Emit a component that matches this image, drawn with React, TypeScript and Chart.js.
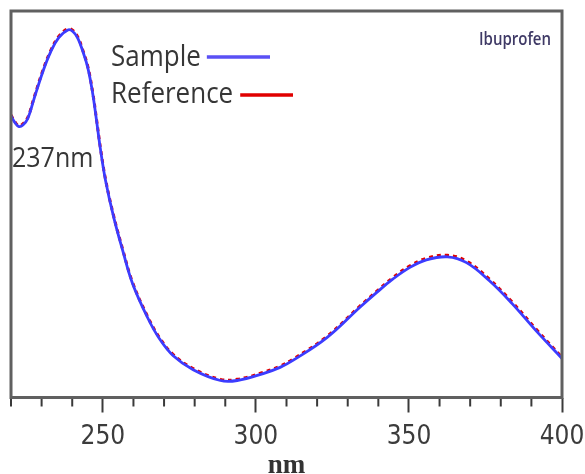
import React, { useEffect, useRef } from "react";
import { Chart, registerables } from "chart.js";

Chart.register(...registerables);

// Wavelength (nm) positions
const wavelengths = [
  220, 221.3, 222.6, 223.9, 225.5, 227.5, 230.4, 233.0, 235.6, 238.6, 240.2,
  241.8, 243.4, 245.1, 246.7, 248.0, 249.3, 250.9, 253.5, 256.5, 259.7, 264.6,
  268.5, 273.0, 279.5, 288.4, 293.9, 302.4, 307.9, 312.1, 323.2, 333.9, 339.5,
  344.7, 350.2, 355.7, 362.6, 368.8, 376.3, 383.7, 391.5, 400,
];
// Absorbance (relative units)
const sampleAbs = [
  0.729, 0.711, 0.701, 0.705, 0.722, 0.772, 0.843, 0.895, 0.931, 0.951, 0.947,
  0.93, 0.897, 0.853, 0.786, 0.713, 0.638, 0.561, 0.468, 0.38, 0.295, 0.207,
  0.152, 0.108, 0.072, 0.044, 0.044, 0.062, 0.078, 0.096, 0.155, 0.233, 0.272,
  0.306, 0.336, 0.356, 0.364, 0.349, 0.302, 0.243, 0.173, 0.101,
];
const referenceAbs = [
  0.731, 0.713, 0.703, 0.708, 0.725, 0.775, 0.846, 0.898, 0.934, 0.954, 0.95,
  0.933, 0.9, 0.856, 0.789, 0.716, 0.641, 0.564, 0.471, 0.383, 0.298, 0.21,
  0.155, 0.111, 0.075, 0.047, 0.047, 0.065, 0.081, 0.099, 0.158, 0.236, 0.275,
  0.31, 0.34, 0.36, 0.368, 0.353, 0.306, 0.247, 0.177, 0.104,
];
const xMin = 220;
const xMax = 400;
const xStep = 10;
const xMajorStep = 50;
const seriesNames = ["Sample", "Reference"];
const peakLabel = "237nm";
const compoundLabel = "Ibuprofen";
const xAxisTitle = "nm";

const BLUE = "#3c3cff";
const RED = "#e00000";
const FRAME = "#606060";
const TEXT = "#363636";

const overlayPlugin = {
  id: "overlay",
  afterDraw(chart: any) {
    const { ctx, chartArea } = chart;
    const xs = chart.scales.x;
    ctx.save();
    // minor ticks
    ctx.strokeStyle = "#3a3a3a";
    ctx.lineWidth = 2;
    xs.ticks.forEach((t: any) => {
      if (t.value % xMajorStep !== 0) {
        const px = xs.getPixelForValue(t.value);
        ctx.beginPath();
        ctx.moveTo(px, chartArea.bottom);
        ctx.lineTo(px, chartArea.bottom + 9);
        ctx.stroke();
      }
    });
    // frame
    ctx.strokeStyle = FRAME;
    ctx.lineWidth = 3;
    ctx.strokeRect(
      chartArea.left,
      chartArea.top,
      chartArea.right - chartArea.left,
      chartArea.bottom - chartArea.top
    );

    const stretchText = (
      text: string,
      x: number,
      y: number,
      font: string,
      color: string,
      sy: number,
      align: CanvasTextAlign
    ) => {
      ctx.save();
      ctx.translate(x, y);
      ctx.scale(1, sy);
      ctx.font = font;
      ctx.fillStyle = color;
      ctx.textAlign = align;
      ctx.textBaseline = "alphabetic";
      ctx.fillText(text, 0, 0);
      ctx.restore();
    };

    // legend
    const lf = "26px 'Open Sans'";
    stretchText(seriesNames[0], 111, 66, lf, TEXT, 1.12, "left");
    stretchText(seriesNames[1], 111, 103, lf, TEXT, 1.12, "left");
    ctx.font = lf;
    const w0 = ctx.measureText(seriesNames[0]).width;
    const w1 = ctx.measureText(seriesNames[1]).width;
    ctx.lineWidth = 3.5;
    ctx.strokeStyle = "#5a50f5";
    ctx.beginPath();
    ctx.moveTo(111 + w0 + 6, 57);
    ctx.lineTo(270, 57);
    ctx.stroke();
    ctx.strokeStyle = RED;
    ctx.beginPath();
    ctx.moveTo(111 + w1 + 7, 95);
    ctx.lineTo(293, 95);
    ctx.stroke();

    // annotations
    stretchText(peakLabel, 12, 167, "25px 'Open Sans'", TEXT, 1.1, "left");
    stretchText(compoundLabel, 551, 45, "600 15px 'Open Sans'", "#3f3a66", 1.25, "right");
    ctx.restore();
  },
};

export default function App() {
  const ref = useRef<HTMLCanvasElement | null>(null);
  useEffect(() => {
    if (!ref.current) return;
    const sample = wavelengths.map((x, i) => ({ x, y: sampleAbs[i] }));
    const reference = wavelengths.map((x, i) => ({ x, y: referenceAbs[i] }));
    const chart = new Chart(ref.current, {
      type: "line",
      data: {
        datasets: [
          {
            label: seriesNames[0],
            data: sample,
            borderColor: BLUE,
            borderWidth: 2.8,
            pointRadius: 0,
            tension: 0.4,
            fill: false,
          },
          {
            label: seriesNames[1],
            data: reference,
            borderColor: RED,
            borderWidth: 3,
            borderDash: [4, 4],
            pointRadius: 0,
            tension: 0.4,
            fill: false,
          },
        ],
      },
      options: {
        responsive: false,
        animation: false,
        layout: { padding: { left: 11, top: 11, right: 23, bottom: 0 } },
        plugins: {
          legend: { display: false },
          tooltip: { enabled: false },
          title: { display: false },
        },
        scales: {
          x: {
            type: "linear",
            min: xMin,
            max: xMax,
            afterFit: (s: any) => {
              s.height = 76.5;
              s.paddingLeft = 0;
              s.paddingRight = 0;
            },
            border: { display: false },
            grid: {
              drawOnChartArea: false,
              drawTicks: true,
              tickLength: 15,
              tickWidth: 2,
              tickColor: (c: any) =>
                c.tick && c.tick.value % xMajorStep === 0 ? "#3a3a3a" : "rgba(0,0,0,0)",
            },
            ticks: {
              stepSize: xStep,
              autoSkip: false,
              maxRotation: 0,
              padding: 9,
              color: "#3c3c3c",
              font: { family: "'DejaVu Sans Condensed', sans-serif", size: 26 },
              callback: (v: any) => (Number(v) % xMajorStep === 0 ? String(v) : ""),
            },
            title: {
              display: true,
              text: xAxisTitle,
              color: "#333",
              font: { family: "'Liberation Serif', serif", size: 27, weight: "bold", lineHeight: 0.6 },
              padding: { top: 0, bottom: 0 },
            },
          },
          y: {
            display: false,
            min: 0,
            max: 1,
          },
        },
      },
      plugins: [overlayPlugin],
    });
    return () => chart.destroy();
  }, []);
  return (
    <canvas
      ref={ref}
      width={585}
      height={474}
      style={{ position: "absolute", left: 0, top: 0, width: 585, height: 474 }}
    />
  );
}
